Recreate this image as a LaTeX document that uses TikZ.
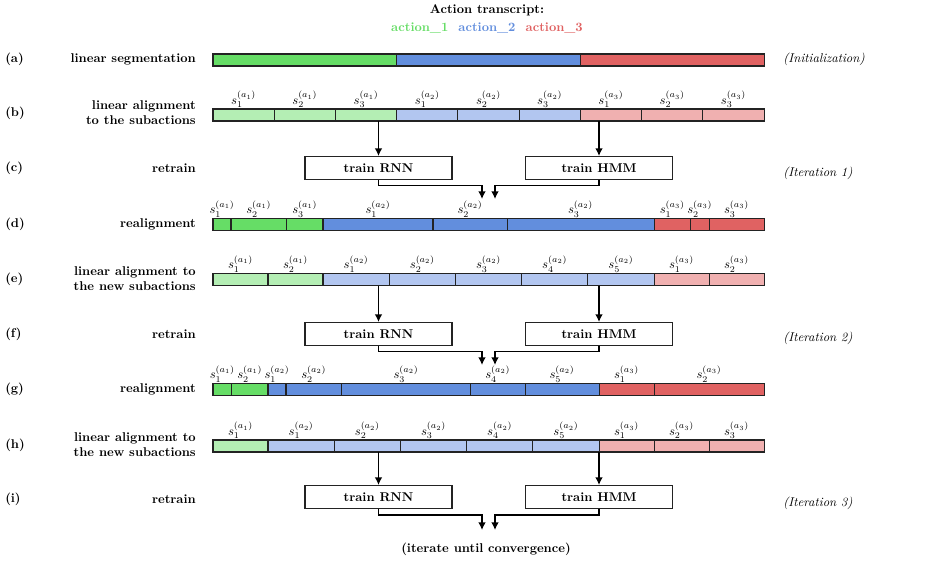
\documentclass[tikz,border=0pt]{standalone}
\usetikzlibrary{arrows.meta}
\definecolor{cg}{RGB}{102,221,102}
\definecolor{cb}{RGB}{98,142,221}
\definecolor{cr}{RGB}{224,98,98}
\definecolor{lg}{RGB}{180,238,180}
\definecolor{lb}{RGB}{178,198,240}
\definecolor{lr}{RGB}{240,176,176}
\definecolor{edge}{RGB}{35,35,35}
\newcommand\segrow[2]{%
  \foreach \xa/\xb/\col/\ii/\aa in {#2} {
    \draw[seg, fill=\col] (\xa,#1-6) rectangle (\xb,#1+6);
    \node[slab] at ({(\xa+\xb)/2},#1-6) {$s_{\ii}^{(a_{\aa})}$};
  }}
\begin{document}
\begin{tikzpicture}[x=0.7874pt,y=-0.7874pt,
  seg/.style={draw=edge, line width=0.8pt},
  slab/.style={anchor=south, inner sep=0.8pt},
  rowlab/.style={font=\bfseries, align=right, anchor=east, inner sep=0pt},
  letlab/.style={font=\bfseries, anchor=west, inner sep=0pt},
  itlab/.style={font=\itshape, anchor=west, inner sep=0pt},
  trainbox/.style={draw=edge, line width=0.8pt, minimum width=147*0.7874pt, minimum height=23*0.7874pt, font=\bfseries, inner sep=0pt},
  flow/.style={line width=1.1pt, -{Latex[length=6pt,width=6pt]}},
  ]
\useasboundingbox (0,0) rectangle (952,561);

% title
\node[font=\bfseries] (title) at (487,10) {Action transcript:};
\node[font=\bfseries] (act) at (487,28) {\textcolor{cg}{action\_1}\hspace{0.8em}\textcolor{cb}{action\_2}\hspace{0.8em}\textcolor{cr}{action\_3}};

% left letters
\foreach \l/\y in {a/59,b/113,c/168,d/224,e/279,f/334,g/389,h/445,i/499}
  \node[letlab] (let-\l) at (5,\y) {(\l)};

% row labels
\node[rowlab] (lab-a) at (196,59) {linear segmentation};
\node[rowlab] (lab-b) at (196,113) {linear alignment\\to the subactions};
\node[rowlab] (lab-c) at (196,168) {retrain};
\node[rowlab] (lab-d) at (196,224) {realignment};
\node[rowlab] (lab-e) at (196,279) {linear alignment to\\the new subactions};
\node[rowlab] (lab-f) at (196,334) {retrain};
\node[rowlab] (lab-g) at (196,389) {realignment};
\node[rowlab] (lab-h) at (196,445) {linear alignment to\\the new subactions};
\node[rowlab] (lab-i) at (196,499) {retrain};

% right labels
\node[itlab] (it0) at (783,59) {(Initialization)};
\node[itlab] (it1) at (783,173) {(Iteration 1)};
\node[itlab] (it2) at (783,338) {(Iteration 2)};
\node[itlab] (it3) at (783,503) {(Iteration 3)};

% (a)
\draw[seg, fill=cg] (213,54) rectangle (396.7,66);
\draw[seg, fill=cb] (396.7,54) rectangle (580.3,66);
\draw[seg, fill=cr] (580.3,54) rectangle (764,66);

% (b)
\segrow{115}{213/274.2/lg/1/1, 274.2/335.4/lg/2/1, 335.4/396.7/lg/3/1,
  396.7/457.9/lb/1/2, 457.9/519.1/lb/2/2, 519.1/580.3/lb/3/2,
  580.3/641.6/lr/1/3, 641.6/702.8/lr/2/3, 702.8/764/lr/3/3}
\coordinate (bB) at (0,121);

% (d)
\segrow{224.5}{213/231/cg/1/1, 231/286.5/cg/2/1, 286.5/323/cg/3/1,
  323/433/cb/1/2, 433/507/cb/2/2, 507/654/cb/3/2,
  654/690.5/cr/1/3, 690.5/709/cr/2/3, 709/764/cr/3/3}

% (e)
\segrow{279.5}{213/268/lg/1/1, 268/323/lg/2/1,
  323/389.2/lb/1/2, 389.2/455.4/lb/2/2, 455.4/521.6/lb/3/2, 521.6/587.8/lb/4/2, 587.8/654/lb/5/2,
  654/709/lr/1/3, 709/764/lr/2/3}
\coordinate (eB) at (0,285.5);

% (g)
\segrow{389.5}{213/231.5/cg/1/1, 231.5/268/cg/2/1,
  268/286/cb/1/2, 286/341.5/cb/2/2, 341.5/470.5/cb/3/2, 470.5/525/cb/4/2, 525/599/cb/5/2,
  599/654/cr/1/3, 654/764/cr/2/3}

% (h)
\segrow{446}{213/268/lg/1/1,
  268/334.2/lb/1/2, 334.2/400.4/lb/2/2, 400.4/466.6/lb/3/2, 466.6/532.8/lb/4/2, 532.8/599/lb/5/2,
  599/654/lr/1/3, 654/709/lr/2/3, 709/764/lr/3/3}
\coordinate (hB) at (0,452);

% train boxes
\node[trainbox] (rnn1) at (378.5,168) {train RNN};
\node[trainbox] (hmm1) at (599,168) {train HMM};
\node[trainbox] (rnn2) at (378.5,334) {train RNN};
\node[trainbox] (hmm2) at (599,334) {train HMM};
\node[trainbox] (rnn3) at (378.5,497) {train RNN};
\node[trainbox] (hmm3) at (599,497) {train HMM};

% merge points
\coordinate (m1a) at (482,199);
\coordinate (m1b) at (495,199);
\coordinate (m2a) at (482,365);
\coordinate (m2b) at (495,365);
\coordinate (m3a) at (482,530);
\coordinate (m3b) at (495,530);
\coordinate (j1) at (0,185.5);
\coordinate (j2) at (0,351.5);
\coordinate (j3) at (0,515);

% arrows into boxes
\draw[flow] (rnn1 |- bB) -- (rnn1.north);
\draw[flow] (hmm1 |- bB) -- (hmm1.north);
\draw[flow] (rnn2 |- eB) -- (rnn2.north);
\draw[flow] (hmm2 |- eB) -- (hmm2.north);
\draw[flow] (rnn3 |- hB) -- (rnn3.north);
\draw[flow] (hmm3 |- hB) -- (hmm3.north);

% merging arrows
\draw[flow] (rnn1.south) |- (j1 -| m1a) -- (m1a);
\draw[flow] (hmm1.south) |- (j1 -| m1b) -- (m1b);
\draw[flow] (rnn2.south) |- (j2 -| m2a) -- (m2a);
\draw[flow] (hmm2.south) |- (j2 -| m2b) -- (m2b);
\draw[flow] (rnn3.south) |- (j3 -| m3a) -- (m3a);
\draw[flow] (hmm3.south) |- (j3 -| m3b) -- (m3b);

\node[font=\bfseries] (conv) at (486,549) {(iterate until convergence)};
\end{tikzpicture}
\end{document}
